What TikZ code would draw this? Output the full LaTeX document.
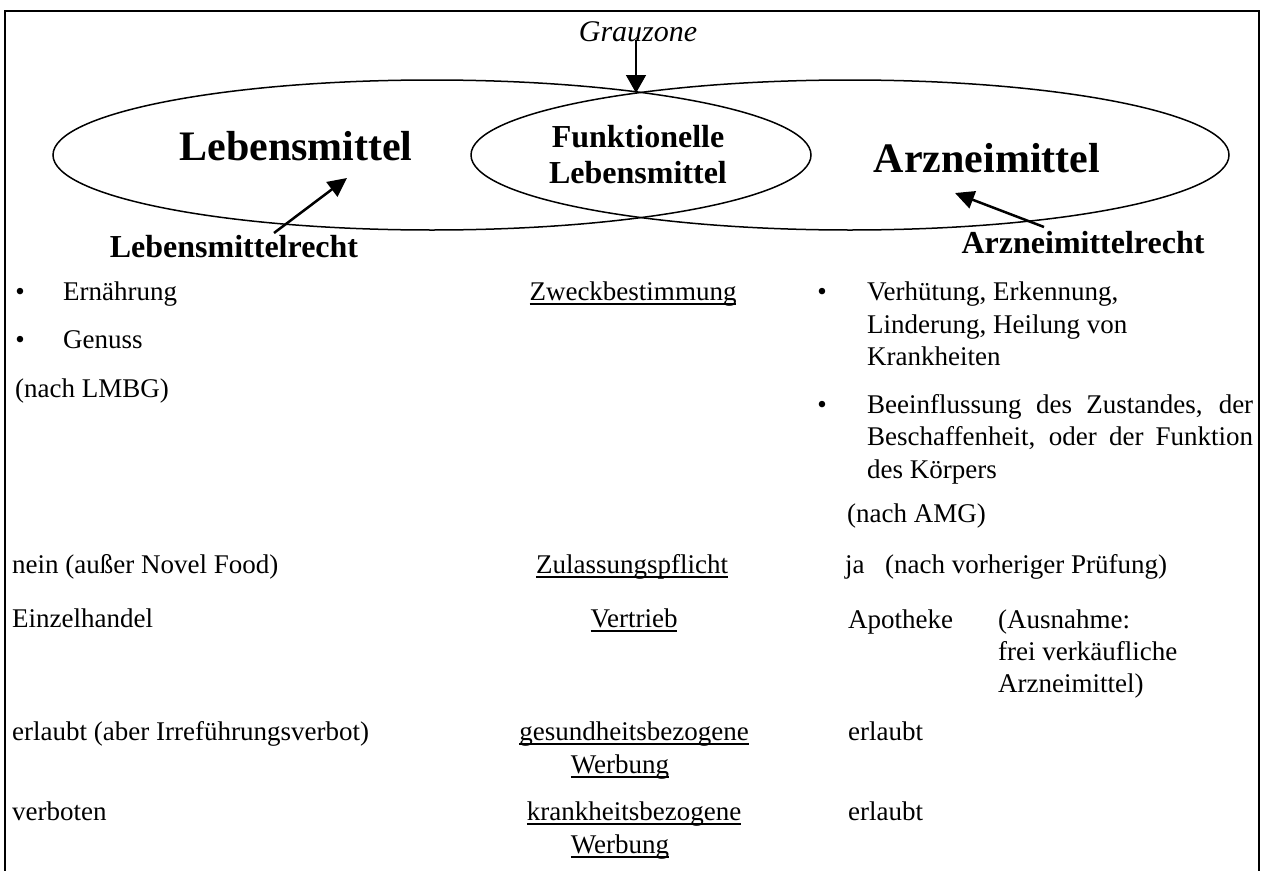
\documentclass[tikz,border=0pt]{standalone}
\usepackage{fontspec}
\setmainfont{Liberation Serif}
\usetikzlibrary{arrows.meta,shapes.geometric}
\newcommand\myul[1]{\setbox0\hbox{#1}\rlap{\rule[-5pt]{\wd0}{1.8pt}}\box0}
\tikzset{
  txt/.style={inner sep=0pt, font=\fontsize{27}{32}\selectfont},
  lft/.style={txt, anchor=base west},
  ctr/.style={txt, anchor=base},
  bigt/.style={inner sep=0pt, anchor=base, font=\fontsize{42}{50}\selectfont\bfseries},
  midt/.style={inner sep=0pt, anchor=base, font=\fontsize{32}{38}\selectfont\bfseries},
  arr/.style={-{Triangle[length=19pt,width=18pt]}, line width=2.5pt},
  garr/.style={-{Triangle[length=18pt,width=20pt]}, line width=1.5pt},
  ell/.style={ellipse, draw, line width=1.5pt, minimum width=758pt, minimum height=150pt, inner sep=0pt},
  frm/.style={line width=2pt},
}
\begin{document}
\begin{tikzpicture}[x=1pt,y=-1pt]
\useasboundingbox (0,0) rectangle (1263,870);
% frame (open at bottom)
\coordinate (f1) at (5,872);
\coordinate (f2) at (5,11);
\coordinate (f3) at (1259,11);
\coordinate (f4) at (1259,872);
\draw[frm] (f1) -- (f2) -- (f3) -- (f4);
% ellipses
\node[ell] (lmell) at (432,155) {};
\node[ell] (amell) at (850,155) {};
% titles
\node[inner sep=0pt, anchor=base, font=\fontsize{30}{36}\selectfont\itshape] (grau) at (638,41) {Grauzone};
\node[bigt] (lm) at (296,160) {Lebensmittel};
\node[bigt] (am) at (987,172) {Arzneimittel};
\node[midt] (fl1) at (638,147) {Funktionelle};
\node[midt] (fl2) at (638,183) {Lebensmittel};
\node[midt] (lmr) at (234,257) {Lebensmittelrecht};
\node[midt] (amr) at (1083,253) {Arzneimittelrecht};
% arrows
\coordinate (gtail) at (636,40);
\coordinate (gtip) at (636,93);
\draw[garr] (gtail) -- (gtip);
\coordinate (ltail) at (274,233);
\coordinate (ltip) at (347,178);
\draw[arr] (ltail) -- (ltip);
\coordinate (rtail) at (1044,227);
\coordinate (rtip) at (955,193);
\draw[arr] (rtail) -- (rtip);
% left column
\node[ctr] (b1) at (20,300) {•};
\node[lft] (l1) at (63,300) {Ernährung};
\node[ctr] (b2) at (20,348) {•};
\node[lft] (l2) at (63,348) {Genuss};
\node[lft] (l3) at (15,397) {(nach LMBG)};
\node[lft] (l4) at (12,573) {nein (außer Novel Food)};
\node[lft] (l5) at (12,627) {Einzelhandel};
\node[lft] (l6) at (12,740) {erlaubt (aber Irreführungsverbot)};
\node[lft] (l7) at (12,820) {verboten};
% middle column
\node[ctr] (m1) at (633,300) {\myul{Zweckbestimmung}};
\node[ctr] (m2) at (632,573) {\myul{Zulassungspflicht}};
\node[ctr] (m3) at (634,627) {\myul{Vertrieb}};
\node[ctr] (m4) at (634,740) {\myul{gesundheitsbezogene}};
\node[ctr] (m5) at (620,773) {\myul{Werbung}};
\node[ctr] (m6) at (634,820) {\myul{krankheitsbezogene}};
\node[ctr] (m7) at (620,853) {\myul{Werbung}};
% right column
\node[ctr] (rb1) at (822,300) {•};
\node[lft] (r1) at (867,300) {Verhütung, Erkennung,};
\node[lft] (r2) at (867,333) {Linderung, Heilung von};
\node[lft] (r3) at (867,365) {Krankheiten};
\node[ctr] (rb2) at (822,413) {•};
\node[lft] (r4) at (867,413) {\makebox[386pt][s]{Beeinflussung des Zustandes, der}};
\node[lft] (r5) at (867,445) {\makebox[386pt][s]{Beschaffenheit, oder der Funktion}};
\node[lft] (r6) at (867,478) {des Körpers};
\node[lft] (r7) at (847,522) {(nach AMG)};
\node[lft] (r8) at (845,573) {ja};
\node[lft] (r9) at (885,573) {(nach vorheriger Prüfung)};
\node[lft] (r10) at (848,628) {Apotheke};
\node[lft] (r11) at (998,628) {(Ausnahme:};
\node[lft] (r12) at (998,660) {frei verkäufliche};
\node[lft] (r13) at (998,692) {Arzneimittel)};
\node[lft] (r14) at (848,740) {erlaubt};
\node[lft] (r15) at (848,820) {erlaubt};
\end{tikzpicture}
\end{document}
